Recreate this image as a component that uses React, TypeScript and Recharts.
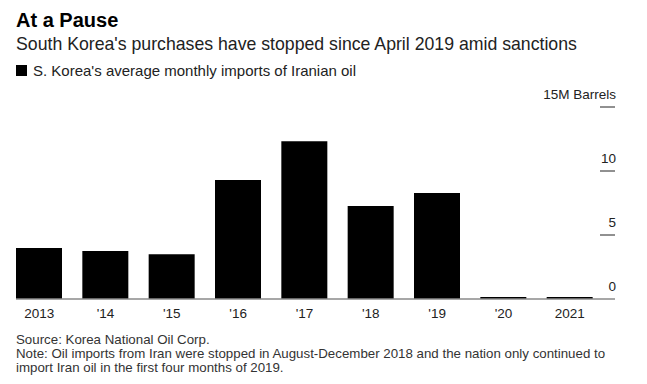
import { Bar, BarChart, XAxis, YAxis } from "recharts";

const years = ["2013", "'14", "'15", "'16", "'17", "'18", "'19", "'20", "2021"];
const imports = [3.98, 3.75, 3.5, 9.3, 12.33, 7.27, 8.28, 0.15, 0.15];
const yTicks = [0, 5, 10, 15];

const data = years.map((year, i) => ({ year, imports: imports[i] }));

const font = "'Liberation Sans', Arial, sans-serif";

const XTick = (props: any) => {
  const { x, y, payload } = props;
  return (
    <text x={x} y={y + 18.7} textAnchor="middle" fontSize={13.5} fill="#222" fontFamily={font}>
      {payload.value}
    </text>
  );
};

const YTick = (props: any) => {
  const { x, y, payload } = props;
  const label = payload.value === 15 ? "15M Barrels" : String(payload.value);
  return (
    <g>
      {payload.value > 0 && <line x1={x - 15} x2={x} y1={y} y2={y} stroke="#222" strokeWidth={1} />}
      <text x={x + 1} y={y - 8.5} textAnchor="end" fontSize={13.5} fill="#222" fontFamily={font}>
        {label}
      </text>
    </g>
  );
};

export default function App() {
  return (
    <div
      style={{
        position: "absolute",
        left: 0,
        top: 0,
        width: 647,
        height: 384,
        background: "#fff",
        fontFamily: font,
        overflow: "hidden",
      }}
    >
      <div style={{ position: "absolute", left: 16, top: 9.8, fontSize: 20, lineHeight: "20px", fontWeight: 700, color: "#000" }}>
        At a Pause
      </div>
      <div style={{ position: "absolute", left: 16, top: 35.4, fontSize: 17.7, lineHeight: "18px", color: "#222", whiteSpace: "nowrap" }}>
        South Korea's purchases have stopped since April 2019 amid sanctions
      </div>
      <div style={{ position: "absolute", left: 16, top: 65.3, width: 10.5, height: 10.5, background: "#000" }} />
      <div style={{ position: "absolute", left: 33, top: 63.2, fontSize: 15, lineHeight: "15px", color: "#222", whiteSpace: "nowrap" }}>
        S. Korea's average monthly imports of Iranian oil
      </div>

      <div style={{ position: "absolute", left: 0, top: 80 }}>
        <BarChart width={647} height={260} data={data} margin={{ top: 27, right: 0, bottom: 11, left: 16 }}>
          <XAxis
            dataKey="year"
            height={30}
            tickLine={false}
            tickSize={0}
            tickMargin={0}
            axisLine={{ stroke: "#8a8a8a", strokeWidth: 1.5 }}
            padding={{ left: -10, right: 12 }}
            tick={<XTick />}
            interval={0}
          />
          <YAxis
            orientation="right"
            width={32}
            domain={[0, 15]}
            ticks={yTicks}
            axisLine={false}
            tickLine={false}
            tickSize={0}
            tickMargin={0}
            tick={<YTick />}
            interval={0}
          />
          <Bar dataKey="imports" fill="#000" barSize={46} isAnimationActive={false} />
        </BarChart>
      </div>

      <div style={{ position: "absolute", left: 16, top: 333.3, fontSize: 13.3, lineHeight: "13.9px", color: "#333", width: 625, whiteSpace: "nowrap" }}>
        Source: Korea National Oil Corp.
        <br />
        Note: Oil imports from Iran were stopped in August-December 2018 and the nation only continued to
        <br />
        import Iran oil in the first four months of 2019.
      </div>
    </div>
  );
}
